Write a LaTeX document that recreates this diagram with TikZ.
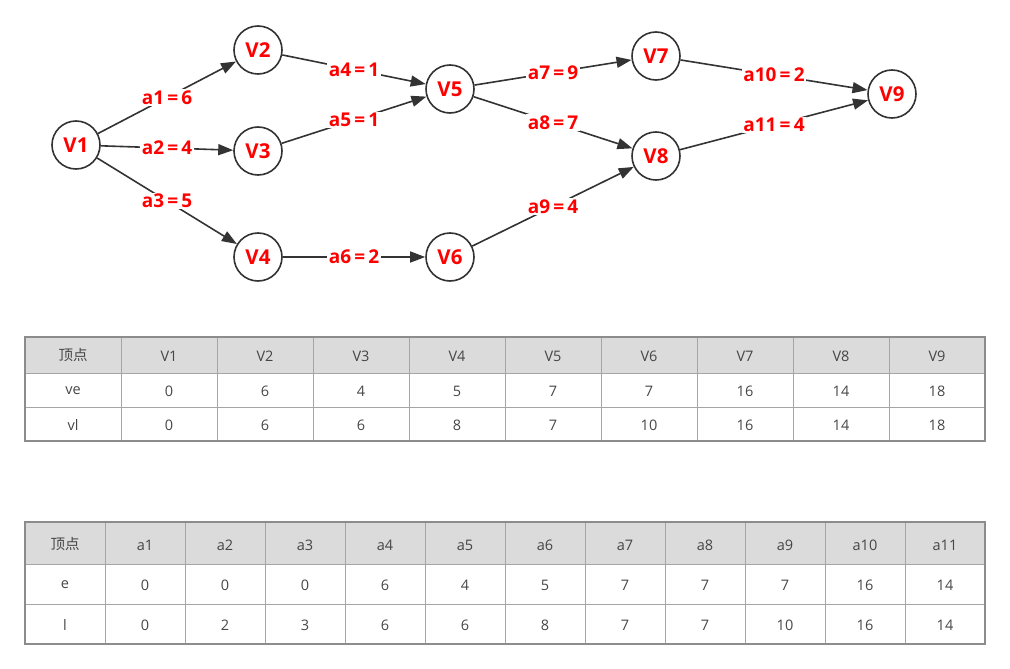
\documentclass[tikz,border=0pt]{standalone}
\usepackage{fontspec}
\setmainfont{Open Sans}
\newfontfamily\cjk{Noto Sans CJK SC}
\usetikzlibrary{arrows.meta}
\definecolor{vred}{RGB}{255,0,0}
\definecolor{egrey}{RGB}{51,51,51}
\definecolor{hgrey}{RGB}{219,219,219}
\definecolor{bgrey}{RGB}{140,140,140}
\definecolor{lgrey}{RGB}{165,165,165}
\definecolor{tgrey}{RGB}{70,70,70}
\newcommand{\wt}[2]{#1\,=\,#2}
\tikzset{
  vtx/.style={circle,draw=egrey,line width=1.6pt,minimum size=48pt,inner sep=0pt,
    text=vred,font=\fontsize{20.5}{20.5}\selectfont\bfseries},
  arc/.style={line width=1.6pt,draw=egrey,-{Triangle[length=15pt,width=11pt]}},
  wt/.style={fill=white,inner sep=1.5pt,text=vred,font=\fontsize{19}{19}\selectfont\bfseries},
  cell/.style={text=tgrey,inner sep=0pt,font=\fontsize{14.5}{14.5}\selectfont},
}

\begin{document}
\begin{tikzpicture}[x=1pt,y=-1pt]
\useasboundingbox (0,0) rectangle (1010,669);
\node[vtx] (v1) at (76,145) {V1};
\node[vtx] (v2) at (258,50) {V2};
\node[vtx] (v3) at (258,151) {V3};
\node[vtx] (v4) at (258,257) {V4};
\node[vtx] (v5) at (450,89) {V5};
\node[vtx] (v6) at (450,257) {V6};
\node[vtx] (v7) at (656,56) {V7};
\node[vtx] (v8) at (656,156) {V8};
\node[vtx] (v9) at (892,94) {V9};
\draw[arc] (v1) -- node[wt]{\wt{a1}{6}} (v2);
\draw[arc] (v1) -- node[wt]{\wt{a2}{4}} (v3);
\draw[arc] (v1) -- node[wt]{\wt{a3}{5}} (v4);
\draw[arc] (v2) -- node[wt]{\wt{a4}{1}} (v5);
\draw[arc] (v3) -- node[wt]{\wt{a5}{1}} (v5);
\draw[arc] (v4) -- node[wt]{\wt{a6}{2}} (v6);
\draw[arc] (v5) -- node[wt]{\wt{a7}{9}} (v7);
\draw[arc] (v5) -- node[wt]{\wt{a8}{7}} (v8);
\draw[arc] (v6) -- node[wt]{\wt{a9}{4}} (v8);
\draw[arc] (v7) -- node[wt]{\wt{a10}{2}} (v9);
\draw[arc] (v8) -- node[wt]{\wt{a11}{4}} (v9);

% vertex table
\fill[hgrey] (25,337) rectangle (985,373);
\foreach \i in {1,...,9}
  \draw[lgrey,line width=0.8pt] (25+96*\i,337) -- (25+96*\i,441);
\draw[lgrey,line width=0.8pt] (25,373) -- (985,373) (25,407) -- (985,407);
\draw[bgrey,line width=1.6pt] (25,337) rectangle (985,441);
\node[cell,font=\cjk\fontsize{14.5}{14.5}\selectfont] (vh0) at (73,355) {顶点};
\foreach \t [count=\i] in {V1,V2,V3,V4,V5,V6,V7,V8,V9}
  \node[cell] (vh\i) at (73+96*\i,356) {\t};
\foreach \t [count=\i from 0] in {ve,0,6,4,5,7,7,16,14,18}
  \node[cell] (ve\i) at (73+96*\i,391) {\t};
\foreach \t [count=\i from 0] in {vl,0,6,6,8,7,10,16,14,18}
  \node[cell] (vl\i) at (73+96*\i,425) {\t};

% activity table
\fill[hgrey] (25,522) rectangle (985,564);
\foreach \i in {1,...,11}
  \draw[lgrey,line width=0.8pt] (25+80*\i,522) -- (25+80*\i,644);
\draw[lgrey,line width=0.8pt] (25,564) -- (985,564) (25,604) -- (985,604);
\draw[bgrey,line width=1.6pt] (25,522) rectangle (985,644);
\node[cell,font=\cjk\fontsize{14.5}{14.5}\selectfont] (ah0) at (65,544) {顶点};
\foreach \t [count=\i] in {a1,a2,a3,a4,a5,a6,a7,a8,a9,a10,a11}
  \node[cell] (ah\i) at (65+80*\i,545) {\t};
\foreach \t [count=\i from 0] in {e,0,0,0,6,4,5,7,7,7,16,14}
  \node[cell] (ae\i) at (65+80*\i,585) {\t};
\foreach \t [count=\i from 0] in {l,0,2,3,6,6,8,7,7,10,16,14}
  \node[cell] (al\i) at (65+80*\i,625) {\t};
\end{tikzpicture}
\end{document}
